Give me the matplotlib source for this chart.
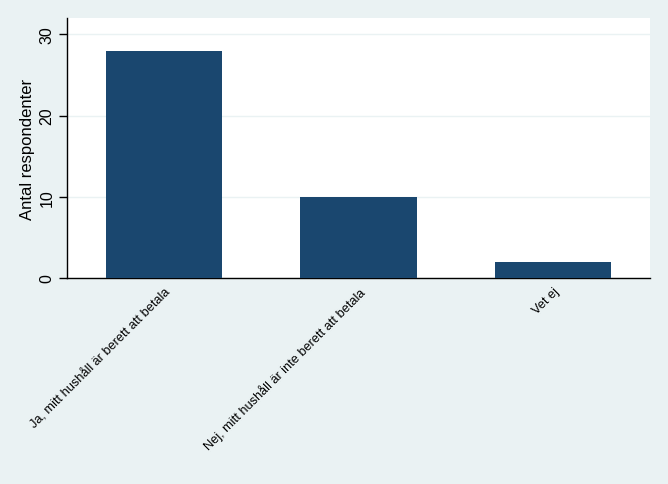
import matplotlib
matplotlib.use('Agg')
import matplotlib.pyplot as plt

categories = ["Ja, mitt hushåll är berett att betala",
              "Nej, mitt hushåll är inte berett att betala",
              "Vet ej"]
counts = [28, 10, 2]
yticks = [0, 10, 20, 30]

bg = "#eaf2f3"
bar_color = "#1a476f"

plt.rcParams['font.family'] = ['Liberation Sans', 'DejaVu Sans']

fig = plt.figure(figsize=(6.68, 4.85), dpi=100, facecolor=bg)
ax = fig.add_axes([67 / 668, 1 - 279 / 485, (650 - 67) / 668, (279 - 19) / 485])
ax.set_facecolor("white")

x = list(range(len(categories)))
ax.bar(x, counts, width=0.6, color=bar_color, zorder=3)

ax.set_xlim(-0.5, 2.5)
ax.set_ylim(0, 32)
ax.set_yticks(yticks)
ax.set_yticklabels([str(t) for t in yticks], rotation=90, va='center', fontsize=11.5)
ax.yaxis.grid(True, color=bg, linewidth=1, zorder=0)

ax.set_xticks(x)
ax.set_xticklabels(categories, rotation=45, ha='right', rotation_mode='anchor', fontsize=9.2)
ax.tick_params(axis='x', length=0, pad=5)
ax.tick_params(axis='y', length=6, width=1, pad=3)

for side in ['top', 'right']:
    ax.spines[side].set_visible(False)
for side in ['left', 'bottom']:
    ax.spines[side].set_color('black')
    ax.spines[side].set_linewidth(1)

ax.set_ylabel("Antal respondenter", fontsize=12, labelpad=3)

fig.savefig("out.png", dpi=100, facecolor=bg)
